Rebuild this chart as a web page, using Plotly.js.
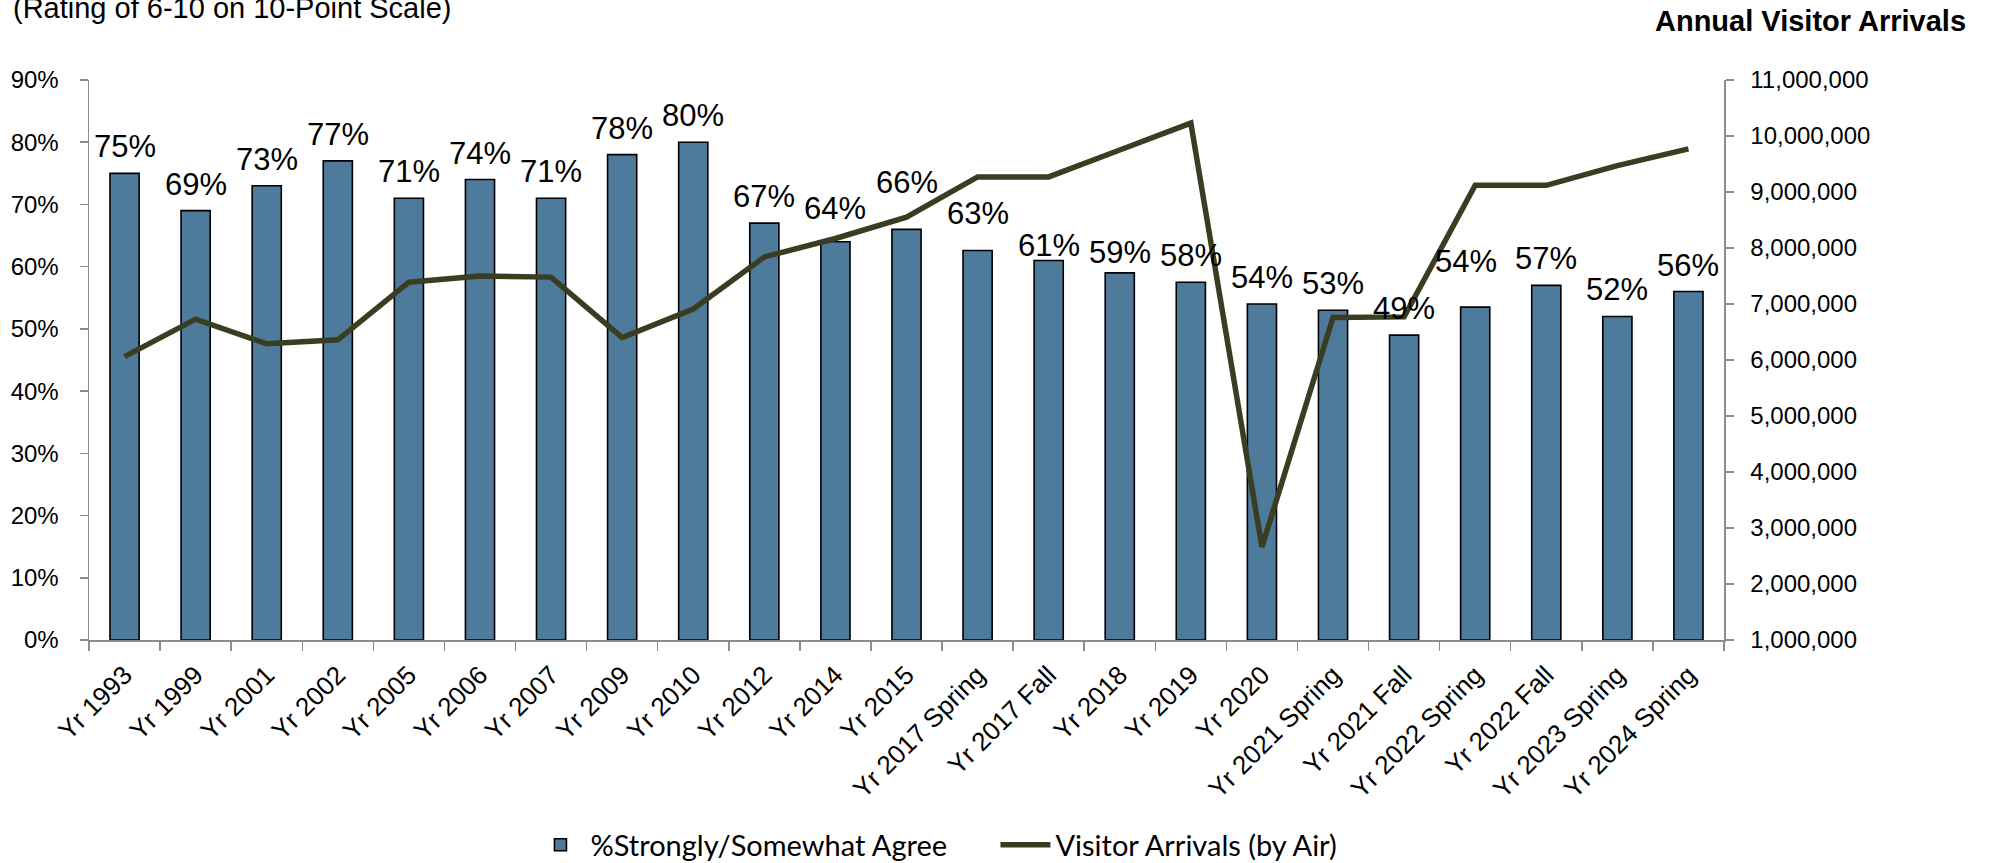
<!DOCTYPE html>
<html>
<head>
<meta charset="utf-8">
<script src="https://cdn.plot.ly/plotly-3.0.1.min.js"></script>
<style>
  html, body { margin: 0; padding: 0; background: #ffffff; }
  #chart { width: 1993px; height: 863px; }
</style>
</head>
<body>
<div id="chart"></div>
<script>
// ---- data ----
const categories = ['Yr 1993','Yr 1999','Yr 2001','Yr 2002','Yr 2005','Yr 2006','Yr 2007','Yr 2009','Yr 2010','Yr 2012','Yr 2014','Yr 2015','Yr 2017 Spring','Yr 2017 Fall','Yr 2018','Yr 2019','Yr 2020','Yr 2021 Spring','Yr 2021 Fall','Yr 2022 Spring','Yr 2022 Fall','Yr 2023 Spring','Yr 2024 Spring'];
const agreePct = [75, 69, 73, 77, 71, 74, 71, 78, 80, 67, 64, 66, 62.6, 61, 59, 57.5, 54, 53, 49, 53.5, 57, 52, 56];
const agreeLabels = ['75%','69%','73%','77%','71%','74%','71%','78%','80%','67%','64%','66%','63%','61%','59%','58%','54%','53%','49%','54%','57%','52%','56%'];
const visitorArrivals = [6060000, 6730000, 6290000, 6360000, 7390000, 7500000, 7480000, 6400000, 6910000, 7840000, 8170000, 8550000, 9270000, 9270000, 9750000, 10230000, 2660000, 6760000, 6770000, 9120000, 9120000, 9470000, 9770000];
const leftTicks = [0, 10, 20, 30, 40, 50, 60, 70, 80, 90];
const rightTicks = [1000000, 2000000, 3000000, 4000000, 5000000, 6000000, 7000000, 8000000, 9000000, 10000000, 11000000];

// label nudges (pixels) for hand-placed data labels
const labelShiftY = [0,0,0,0,0,0,0,0,0,0,7,20,10,-12,-6,0,0,0,0,19,0,0,0];
const labelShiftX = [0,0,0,0,0,0,0,0,0,0,0,0,0,0,0,0,0,0,0,-9,0,0,0];

const FONT = 'Liberation Sans, Arial, sans-serif';
const LEGEND_FONT = 'Lato, Open Sans, sans-serif';
const AXIS_GREY = '#8c8c8c';

const barTrace = {
  type: 'bar',
  name: '%Strongly/Somewhat Agree',
  x: categories,
  y: agreePct,
  marker: { color: '#4e7b9b', line: { color: '#000000', width: 1.6 } },
  hoverinfo: 'x+y',
  yaxis: 'y'
};

const lineTrace = {
  type: 'scatter',
  mode: 'lines',
  name: 'Visitor Arrivals (by Air)',
  x: categories,
  y: visitorArrivals,
  line: { color: '#393e22', width: 5.5 },
  yaxis: 'y2'
};

const annotations = categories.map((c, i) => ({
  x: c, y: agreePct[i], xref: 'x', yref: 'y',
  text: agreeLabels[i], showarrow: false,
  xanchor: 'center', yanchor: 'bottom',
  yshift: 7 + labelShiftY[i], xshift: labelShiftX[i],
  font: { family: FONT, size: 31, color: '#000000' }
}));

annotations.push({
  xref: 'paper', yref: 'paper', x: -0.048, y: 1.128,
  xanchor: 'left', yanchor: 'middle', showarrow: false,
  text: '(Rating of 6-10 on 10-Point Scale)',
  font: { family: FONT, size: 29, color: '#000000' }
});
annotations.push({
  xref: 'paper', yref: 'paper', x: 1.149, y: 1.105,
  xanchor: 'right', yanchor: 'middle', showarrow: false,
  text: '<b>Annual Visitor Arrivals</b>',
  font: { family: FONT, size: 29, color: '#000000' }
});

const layout = {
  width: 1993, height: 863,
  margin: { l: 89, r: 269, t: 80, b: 223, pad: 0, autoexpand: false },
  paper_bgcolor: '#ffffff', plot_bgcolor: '#ffffff',
  bargap: 0.59,
  showlegend: true,
  legend: {
    orientation: 'h', x: 0.27, y: -0.366, xanchor: 'left', yanchor: 'middle',
    font: { family: LEGEND_FONT, size: 29, color: '#000000' },
    itemwidth: 50, entrywidth: 400, traceorder: 'normal'
  },
  xaxis: {
    type: 'category',
    automargin: false,
    tickangle: -45,
    tickfont: { family: FONT, size: 26, color: '#000000' },
    ticklabelstandoff: 8,
    showline: true, linecolor: AXIS_GREY, linewidth: 1.5,
    ticks: 'outside', tickson: 'boundaries', ticklen: 9, tickcolor: AXIS_GREY, tickwidth: 1.5,
    showgrid: false, zeroline: false,
    range: [-0.5, categories.length - 0.5]
  },
  yaxis: {
    automargin: false,
    range: [0, 90],
    tickvals: leftTicks,
    ticktext: leftTicks.map(v => v + '%'),
    tickfont: { family: FONT, size: 24, color: '#000000' },
    showline: true, linecolor: AXIS_GREY, linewidth: 1.5,
    ticks: 'outside', ticklen: 8, tickcolor: AXIS_GREY, tickwidth: 1.5,
    ticklabelstandoff: 16,
    showgrid: false, zeroline: false
  },
  yaxis2: {
    automargin: false,
    overlaying: 'y', side: 'right',
    range: [1000000, 11000000],
    tickvals: rightTicks,
    tickformat: ',d',
    tickfont: { family: FONT, size: 24, color: '#000000' },
    showline: true, linecolor: AXIS_GREY, linewidth: 1.5,
    ticks: 'outside', ticklen: 8, tickcolor: AXIS_GREY, tickwidth: 1.5,
    ticklabelstandoff: 12,
    showgrid: false, zeroline: false
  },
  annotations: annotations
};

Plotly.newPlot('chart', [barTrace, lineTrace], layout, { displayModeBar: false, staticPlot: true });
</script>
</body>
</html>
